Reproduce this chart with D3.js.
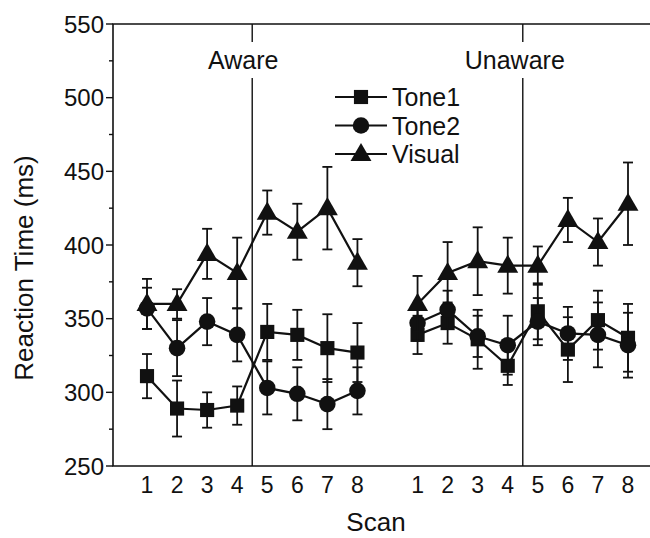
<!DOCTYPE html>
<html>
<head>
<meta charset="utf-8">
<script src="https://cdn.jsdelivr.net/npm/d3@7"></script>
<style>
  html, body { margin: 0; padding: 0; background: #fff; }
  svg { display: block; font-family: "Liberation Sans", Arial, sans-serif; }
</style>
</head>
<body>
<svg id="rt-chart" width="650" height="538"></svg>
<script>
// Scan numbers within each condition block
const scans = [1, 2, 3, 4, 5, 6, 7, 8];
const conditions = ["Aware", "Unaware"];
const seriesNames = ["Tone1", "Tone2", "Visual"];
const yTicks = [250, 300, 350, 400, 450, 500, 550];

// Aware block: means and error bars (ms)
const awareTone1 = [311, 289, 288, 291, 341, 339, 330, 327];
const awareTone1Err = [15, 19, 12, 13, 19, 17, 23, 20];
const awareTone2 = [357, 330, 348, 339, 303, 299, 292, 301];
const awareTone2Err = [14, 19, 16, 18, 18, 18, 17, 16];
const awareVisual = [360, 360, 394, 381, 422, 409, 425, 388];
const awareVisualErr = [17, 10, 17, 24, 15, 19, 28, 16];

// Unaware block
const unawareTone1 = [339, 347, 336, 318, 355, 329, 349, 337];
const unawareTone1Err = [13, 14, 20, 13, 19, 22, 20, 23];
const unawareTone2 = [347, 356, 338, 332, 348, 340, 339, 332];
const unawareTone2Err = [12, 13, 14, 20, 16, 18, 22, 22];
const unawareVisual = [360, 381, 389, 386, 386, 417, 402, 428];
const unawareVisualErr = [19, 21, 23, 19, 13, 15, 16, 28];

(function () {
    const svg = d3.select("#rt-chart");
    const X0 = 113, X1 = 652, Y0 = 24, Y1 = 466;

    // blocks sit at slots 1-8 and 10-17, one empty slot between them
    const x = d3.scaleLinear().domain([1, 17]).range([147, 628]);
    const y = d3.scaleLinear().domain([250, 550]).range([Y1, Y0]);
    const slot = (ci, s) => ci * 9 + s;

    const blocks = [
        { Tone1: [awareTone1, awareTone1Err], Tone2: [awareTone2, awareTone2Err], Visual: [awareVisual, awareVisualErr] },
        { Tone1: [unawareTone1, unawareTone1Err], Tone2: [unawareTone2, unawareTone2Err], Visual: [unawareVisual, unawareVisualErr] }
    ];

    // frame (right side runs off the picture)
    svg.append("path")
        .attr("d", `M${X1},${Y0}H${X0}V${Y1}H${X1}`)
        .attr("fill", "none").attr("stroke", "#111").attr("stroke-width", 1.6);

    // y axis ticks, minor every 25
    const gY = svg.append("g");
    d3.range(250, 551, 25).forEach(v => {
        const major = v % 50 === 0;
        gY.append("line")
            .attr("x1", X0 - (major ? 7 : 4)).attr("x2", X0)
            .attr("y1", y(v)).attr("y2", y(v))
            .attr("stroke", "#111").attr("stroke-width", 1.4);
    });
    gY.selectAll("text").data(yTicks).join("text")
        .attr("x", X0 - 9).attr("y", d => y(d) + 8.5)
        .attr("text-anchor", "end").attr("font-size", 24).attr("fill", "#111")
        .text(d => d);

    // x tick labels
    const gX = svg.append("g");
    conditions.forEach((c, ci) => {
        gX.append("g").selectAll("text").data(scans).join("text")
            .attr("x", d => x(slot(ci, d))).attr("y", 493)
            .attr("text-anchor", "middle").attr("font-size", 23).attr("fill", "#111")
            .text(d => d);
    });

    // axis titles
    svg.append("text")
        .attr("x", 376).attr("y", 531)
        .attr("text-anchor", "middle").attr("font-size", 26).attr("fill", "#111")
        .text("Scan");
    svg.append("text")
        .attr("transform", "translate(33,268) rotate(-90)")
        .attr("text-anchor", "middle").attr("font-size", 26).attr("fill", "#111")
        .text("Reaction Time (ms)");

    // dividers between scan 4 and 5, broken by the block titles
    conditions.forEach((c, ci) => {
        const xd = x(slot(ci, 4.5));
        const g = svg.append("g");
        g.append("line")
            .attr("x1", xd).attr("x2", xd).attr("y1", Y0).attr("y2", Y1)
            .attr("stroke", "#111").attr("stroke-width", 1.4);
        const bg = g.append("rect").attr("fill", "#fff");
        const t = g.append("text")
            .attr("x", xd - (ci === 0 ? 9 : 8)).attr("y", 69)
            .attr("text-anchor", "middle").attr("font-size", 25).attr("fill", "#111")
            .text(c);
        const bb = t.node().getBBox();
        bg.attr("x", bb.x - 3).attr("y", 42).attr("width", bb.width + 6).attr("height", 36);
    });

    const marker = {
        Tone1: d3.symbol().type(d3.symbolSquare).size(200),
        Tone2: d3.symbol().type(d3.symbolCircle).size(215),
        Visual: d3.symbol().type(d3.symbolTriangle).size(190)
    };

    const line = d3.line().x(d => x(d.pos)).y(d => y(d.v));
    const gPlot = svg.append("g");

    blocks.forEach((b, ci) => {
        seriesNames.forEach(name => {
            const [vals, errs] = b[name];
            const pts = scans.map((s, i) => ({ pos: slot(ci, s), v: vals[i], e: errs[i] }));

            const eb = gPlot.append("g").attr("stroke", "#111").attr("stroke-width", 1.8);
            pts.forEach(p => {
                const cx = x(p.pos);
                eb.append("line").attr("x1", cx).attr("x2", cx)
                    .attr("y1", y(p.v - p.e)).attr("y2", y(p.v + p.e));
                [p.v - p.e, p.v + p.e].forEach(v => {
                    eb.append("line").attr("x1", cx - 5).attr("x2", cx + 5)
                        .attr("y1", y(v)).attr("y2", y(v));
                });
            });

            gPlot.append("path").datum(pts)
                .attr("d", line).attr("fill", "none")
                .attr("stroke", "#111").attr("stroke-width", 2.2);

            gPlot.append("g").selectAll("path").data(pts).join("path")
                .attr("transform", d => `translate(${x(d.pos)},${y(d.v) + (name === "Visual" ? 1 : 0)})`)
                .attr("d", marker[name]).attr("fill", "#111");
        });
    });

    // legend
    const gLeg = svg.append("g");
    seriesNames.forEach((name, i) => {
        const ly = 97 + i * 28.5;
        gLeg.append("line")
            .attr("x1", 335).attr("x2", 387).attr("y1", ly).attr("y2", ly)
            .attr("stroke", "#111").attr("stroke-width", 2.2);
        gLeg.append("path")
            .attr("transform", `translate(361,${ly + (name === "Visual" ? 1 : 0)})`)
            .attr("d", marker[name]).attr("fill", "#111");
        gLeg.append("text")
            .attr("x", 392).attr("y", ly + 9)
            .attr("font-size", 25).attr("fill", "#111")
            .text(name);
    });
})();
</script>
</body>
</html>
